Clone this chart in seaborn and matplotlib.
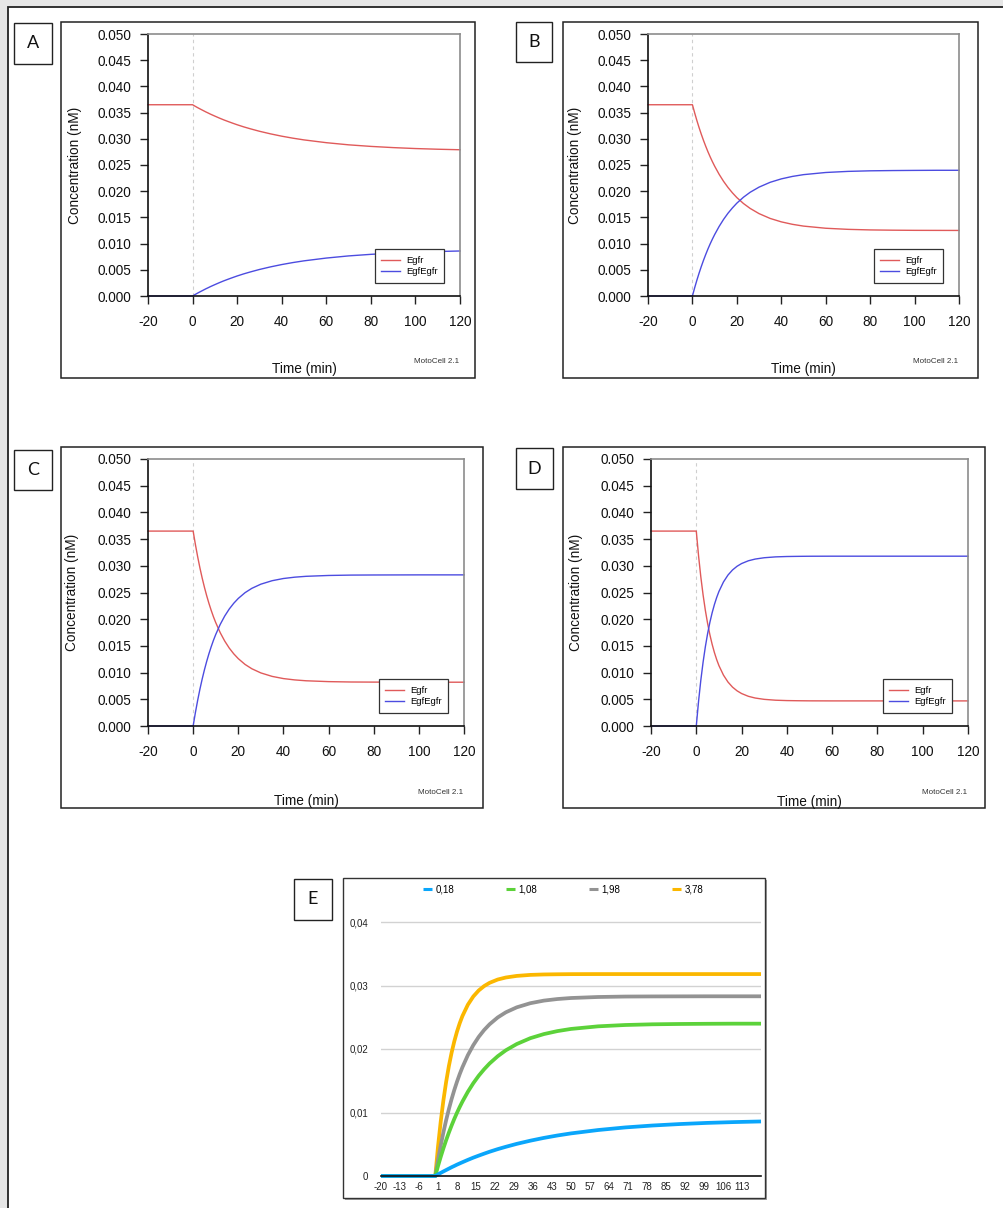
import numpy as np
import pandas as pd
import matplotlib
matplotlib.use("Agg")
import matplotlib.pyplot as plt
import seaborn as sns
from matplotlib.patches import Rectangle

# ---------------- data ----------------
time_min = [-20, 0, 1, 2, 3, 4, 5, 6, 7, 8, 9, 10, 12, 14, 16, 18, 20, 23, 26,
            30, 35, 40, 45, 50, 60, 70, 80, 90, 100, 110, 120]

egfr_A = [0.0365, 0.0365, 0.03625, 0.03601, 0.03578, 0.03556, 0.03534, 0.03512,
          0.03492, 0.03471, 0.03452, 0.03433, 0.03396, 0.03361, 0.03329, 0.03298,
          0.03268, 0.03227, 0.0319, 0.03144, 0.03094, 0.0305, 0.03012, 0.02979,
          0.02926, 0.02885, 0.02855, 0.02832, 0.02814, 0.02801, 0.02791]
egfegfr_A = [0, 0, 0.00025, 0.00049, 0.00072, 0.00094, 0.00116, 0.00138, 0.00158,
             0.00179, 0.00198, 0.00217, 0.00254, 0.00289, 0.00321, 0.00352, 0.00382,
             0.00423, 0.0046, 0.00506, 0.00556, 0.006, 0.00638, 0.00671, 0.00724,
             0.00765, 0.00795, 0.00818, 0.00836, 0.00849, 0.00859]

egfr_B = [0.0365, 0.0365, 0.03495, 0.03349, 0.03213, 0.03086, 0.02967, 0.02856,
          0.02751, 0.02654, 0.02563, 0.02478, 0.02324, 0.02189, 0.02072, 0.01969,
          0.01878, 0.01764, 0.01671, 0.01572, 0.0148, 0.01415, 0.01368, 0.01334,
          0.01293, 0.01272, 0.01261, 0.01256, 0.01253, 0.01252, 0.01251]
egfegfr_B = [0, 0, 0.00156, 0.00301, 0.00437, 0.00564, 0.00683, 0.00794, 0.00899,
             0.00996, 0.01087, 0.01172, 0.01326, 0.01461, 0.01579, 0.01681, 0.01772,
             0.01886, 0.0198, 0.02078, 0.0217, 0.02235, 0.02282, 0.02316, 0.02357,
             0.02378, 0.02389, 0.02394, 0.02397, 0.02399, 0.02399]

egfr_C = [0.0365, 0.0365, 0.03399, 0.0317, 0.02961, 0.02771, 0.02598, 0.0244,
          0.02296, 0.02165, 0.02045, 0.01937, 0.01747, 0.0159, 0.01459, 0.01351,
          0.01261, 0.01153, 0.01072, 0.00994, 0.00929, 0.00888, 0.00863, 0.00847,
          0.00831, 0.00824, 0.00822, 0.00821, 0.0082, 0.0082, 0.0082]
egfegfr_C = [0, 0, 0.00251, 0.0048, 0.00689, 0.00879, 0.01052, 0.0121, 0.01354,
             0.01485, 0.01605, 0.01713, 0.01903, 0.0206, 0.02191, 0.02299, 0.02389,
             0.02497, 0.02578, 0.02656, 0.02721, 0.02762, 0.02787, 0.02803, 0.02819,
             0.02826, 0.02828, 0.02829, 0.0283, 0.0283, 0.0283]

egfr_D = [0.0365, 0.0365, 0.03188, 0.02793, 0.02456, 0.02167, 0.0192, 0.0171,
          0.0153, 0.01376, 0.01244, 0.01131, 0.00953, 0.00823, 0.00728, 0.00659,
          0.00608, 0.00556, 0.00524, 0.00499, 0.00483, 0.00476, 0.00473, 0.00471,
          0.0047, 0.0047, 0.0047, 0.0047, 0.0047, 0.0047, 0.0047]
egfegfr_D = [0, 0, 0.00462, 0.00857, 0.01194, 0.01483, 0.0173, 0.0194, 0.0212,
             0.02274, 0.02406, 0.02519, 0.02697, 0.02827, 0.02922, 0.02991, 0.03042,
             0.03094, 0.03126, 0.03151, 0.03167, 0.03174, 0.03177, 0.03179, 0.0318,
             0.0318, 0.0318, 0.0318, 0.0318, 0.0318, 0.0318]

species = ["Egfr", "EgfEgfr"]
egf_doses = ["0,18", "1,08", "1,98", "3,78"]
panel_letters = ["A", "B", "C", "D", "E"]

x_ticks_main = [-20, 0, 20, 40, 60, 80, 100, 120]
y_ticks_main = [0.000, 0.005, 0.010, 0.015, 0.020, 0.025, 0.030, 0.035, 0.040, 0.045, 0.050]
y_ticklabels_main = ["0.000", "0.005", "0.010", "0.015", "0.020", "0.025",
                     "0.030", "0.035", "0.040", "0.045", "0.050"]
x_ticks_E = [-20, -13, -6, 1, 8, 15, 22, 29, 36, 43, 50, 57, 64, 71, 78, 85, 92, 99, 106, 113]
y_ticks_E = [0, 0.01, 0.02, 0.03, 0.04]
y_ticklabels_E = ["0", "0,01", "0,02", "0,03", "0,04"]

# ---------------- style ----------------
plt.rcParams["font.family"] = ["Liberation Sans", "DejaVu Sans"]
plt.rcParams["axes.unicode_minus"] = False

RED = "#e05a5a"
BLUE = "#4c4ce0"
E_COLORS = {"0,18": "#0aa6fb", "1,08": "#5cd23a", "1,98": "#939393", "3,78": "#fbb700"}

W, H = 1004, 1208
fig = plt.figure(figsize=(W / 100, H / 100), dpi=100)
fig.patch.set_facecolor("#e6e6e6")


def fr(x0, y0, x1, y1):
    return [x0 / W, 1 - y1 / H, (x1 - x0) / W, (y1 - y0) / H]


def box(x0, y0, x1, y1, **kw):
    r = Rectangle((x0 / W, 1 - y1 / H), (x1 - x0) / W, (y1 - y0) / H,
                  transform=fig.transFigure, **kw)
    fig.add_artist(r)
    return r


# page
box(8, 7, 1100, 1300, facecolor="white", edgecolor="#222222", lw=1.3, zorder=-5)

panels = [
    dict(letter=panel_letters[0], label=(14, 23, 52, 64), frame=(61, 22, 475, 378),
         axes=(148, 34, 460, 296), ylab_x=75, time_y=369, moto_y=362,
         egfr=egfr_A, cplx=egfegfr_A),
    dict(letter=panel_letters[1], label=(516, 22, 552, 62), frame=(563, 22, 978, 378),
         axes=(648, 34, 959, 296), ylab_x=575, time_y=369, moto_y=362,
         egfr=egfr_B, cplx=egfegfr_B),
    dict(letter=panel_letters[2], label=(14, 450, 52, 490), frame=(61, 447, 483, 808),
         axes=(148, 459, 464, 726), ylab_x=72, time_y=801, moto_y=793,
         egfr=egfr_C, cplx=egfegfr_C),
    dict(letter=panel_letters[3], label=(516, 448, 553, 489), frame=(563, 447, 985, 808),
         axes=(651, 459, 968, 726), ylab_x=576, time_y=802, moto_y=793,
         egfr=egfr_D, cplx=egfegfr_D),
]

n = len(time_min)
for p in panels:
    x0, y0, x1, y1 = p["axes"]
    aw, ah = x1 - x0, y1 - y0
    ax = fig.add_axes(fr(*p["axes"]))
    df = pd.DataFrame({
        "Time (min)": time_min * 2,
        "Concentration (nM)": list(p["egfr"]) + list(p["cplx"]),
        "Species": [species[0]] * n + [species[1]] * n,
    })
    sns.lineplot(data=df, x="Time (min)", y="Concentration (nM)", hue="Species",
                 hue_order=species, palette=[RED, BLUE], linewidth=1.0,
                 estimator=None, legend=False, ax=ax)
    handles = list(ax.lines[:2])
    for ln in handles:
        ln.set_clip_on(False)
    ax.axvline(0, color="#cfcfcf", lw=0.8, dashes=(3, 3), zorder=0)
    ax.set_xlim(-20, 120)
    ax.set_ylim(0, 0.05)
    ax.set_xticks(x_ticks_main)
    ax.set_xticklabels([str(v) for v in x_ticks_main])
    ax.set_yticks(y_ticks_main)
    ax.set_yticklabels(y_ticklabels_main)
    ax.set_xlabel("")
    ax.set_ylabel("")
    ax.tick_params(direction="out", length=6, width=1.0, labelsize=9.8,
                   color="#222222", labelcolor="#111111")
    ax.tick_params(axis="x", pad=8)
    ax.tick_params(axis="y", pad=6)
    for s in ["left", "bottom"]:
        ax.spines[s].set_color("#111111")
        ax.spines[s].set_linewidth(1.2)
    for s in ["top", "right"]:
        ax.spines[s].set_color("#8c8c8c")
        ax.spines[s].set_linewidth(1.2)
    leg = ax.legend(handles=handles, labels=species, loc="lower right",
                    bbox_to_anchor=(1 - 16 / aw, 13 / ah), borderaxespad=0,
                    fontsize=6.8, frameon=True, fancybox=False, framealpha=1,
                    edgecolor="#333333", handlelength=2.0, handletextpad=0.6,
                    labelspacing=0.25, borderpad=0.7)
    leg.get_frame().set_linewidth(0.9)
    # texts
    fig.text(p["ylab_x"] / W, 1 - ((y0 + y1) / 2) / H, "Concentration (nM)",
             rotation=90, ha="center", va="center", fontsize=9.8, color="#111111")
    fig.text(((x0 + x1) / 2) / W, 1 - p["time_y"] / H, "Time (min)",
             ha="center", va="center", fontsize=9.8, color="#111111")
    fig.text((x1 - 1) / W, 1 - p["moto_y"] / H, "MotoCell 2.1",
             ha="right", va="center", fontsize=5.8, color="#333333")
    # frames
    box(*p["frame"], fill=False, edgecolor="#222222", lw=1.1)
    lx0, ly0, lx1, ly1 = p["label"]
    box(lx0, ly0, lx1, ly1, fill=False, edgecolor="#222222", lw=1.0)
    fig.text(((lx0 + lx1) / 2) / W, 1 - ((ly0 + ly1) / 2) / H, p["letter"],
             ha="center", va="center", fontsize=13, family=["Lato", "DejaVu Sans"],
             color="#111111")

# ---------------- panel E ----------------
box(345, 880, 767, 1200, facecolor="#a0a0a0", edgecolor="none", zorder=-2)
box(343, 878, 765, 1198, facecolor="white", edgecolor="#333333", lw=1.0, zorder=-1)
box(294, 879, 332, 920, fill=False, edgecolor="#222222", lw=1.0)
fig.text(313 / W, 1 - 899.5 / H, panel_letters[4], ha="center", va="center",
         fontsize=13, family=["Lato", "DejaVu Sans"], color="#111111")

axE = fig.add_axes(fr(381, 898, 761, 1176))
axE.patch.set_alpha(0)
cplx_series = [egfegfr_A, egfegfr_B, egfegfr_C, egfegfr_D]
dfE = pd.DataFrame({
    "Time": time_min * 4,
    "Conc": [v for s in cplx_series for v in s],
    "Dose": [d for d in egf_doses for _ in range(n)],
})
draw_order = egf_doses[::-1]
sns.lineplot(data=dfE, x="Time", y="Conc", hue="Dose", hue_order=draw_order,
             palette=E_COLORS, linewidth=2.7, estimator=None, legend=False, ax=axE)
lines_by_dose = dict(zip(draw_order, axE.lines[:4]))
for ln in axE.lines[:4]:
    ln.set_clip_on(False)
    ln.set_solid_capstyle("butt")
axE.set_xlim(-20, 120)
axE.set_ylim(0, 0.04 * 278 / 254)
axE.set_xticks(x_ticks_E)
axE.set_xticklabels([str(v) for v in x_ticks_E])
axE.set_yticks(y_ticks_E)
axE.set_yticklabels(y_ticklabels_E)
axE.set_xlabel("")
axE.set_ylabel("")
axE.yaxis.grid(True, color="#d2d2d2", lw=1.0)
axE.set_axisbelow(True)
for s in ["left", "right", "top"]:
    axE.spines[s].set_visible(False)
axE.spines["bottom"].set_color("#111111")
axE.spines["bottom"].set_linewidth(1.2)
axE.tick_params(length=0, labelsize=7, labelcolor="#222222")
axE.tick_params(axis="x", pad=4)
axE.tick_params(axis="y", pad=9)
legE = axE.legend(handles=[lines_by_dose[d] for d in egf_doses], labels=egf_doses,
                  ncol=4, loc="center left", bbox_to_anchor=(423 / W, 1 - 889 / H),
                  bbox_transform=fig.transFigure, frameon=False, fontsize=7,
                  handlelength=0.9, handletextpad=0.4, columnspacing=5.3,
                  borderpad=0, borderaxespad=0)
for h in legE.get_lines():
    h.set_linewidth(2.2)

fig.savefig("out.png", dpi=100, facecolor=fig.get_facecolor())
